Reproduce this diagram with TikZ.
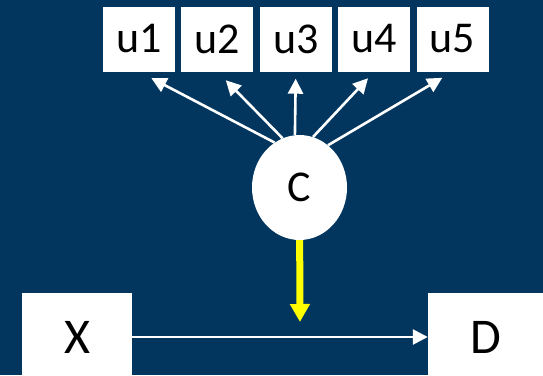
\documentclass[tikz,border=0pt]{standalone}
\usepackage{fontspec}
\setmainfont{Carlito}
\usetikzlibrary{arrows.meta,shapes.geometric,positioning}
\definecolor{slide}{HTML}{02365F}
\definecolor{hilite}{HTML}{FFFF00}
\tikzset{
    item/.style   = {rectangle, fill=white, inner sep=0pt, minimum width=72pt, minimum height=65pt, font=\fontsize{44}{48}\selectfont},
    var/.style    = {rectangle, fill=white, inner sep=0pt, minimum width=110pt, minimum height=88pt, font=\fontsize{50}{56}\selectfont},
    latent/.style = {ellipse, fill=white, inner sep=0pt, minimum width=95pt, minimum height=105pt, font=\fontsize{44}{50}\selectfont},
    link/.style   = {-{Triangle[length=15pt,width=15pt]}, white, line width=2.6pt},
    effect/.style = {-{Triangle[length=18pt,width=19pt]}, hilite, line width=7pt}
}

\begin{document}
\begin{tikzpicture}[x=1pt, y=-1pt]
  \fill[slide] (0,0) rectangle (543,375);
  \useasboundingbox (0,0) rectangle (543,375);

  % row of items
  \node (U1) at (139,39) [item] {u1};
  \node (U2) [item, right=6pt of U1] {u2};
  \node (U3) [item, right=6pt of U2] {u3};
  \node (U4) [item, right=6pt of U3] {u4};
  \node (U5) [item, right=6pt of U4] {u5};

  \node (C) at (299.5,187.5) [latent] {C};
  \node (X) at (77,337) [var] {X};
  \node (D) at (486,337) [var, minimum width=116pt] {D};
  \coordinate (hit) at (300,337);

  \path (C.119) edge [link, shorten >=14pt] (U1.south);
  \path (C.109) edge [link, shorten >=12pt] (U2.south);
  \path (C.95)  edge [link, shorten >=7pt]  (U3.south);
  \path (C.75)  edge [link, shorten >=9pt]  (U4.south);
  \path (C.56)  edge [link, shorten >=12pt] (U5.south);
  \path (X) edge [link] (D);
  \path (C) edge [effect, shorten >=15pt] (hit);
\end{tikzpicture}
\end{document}
